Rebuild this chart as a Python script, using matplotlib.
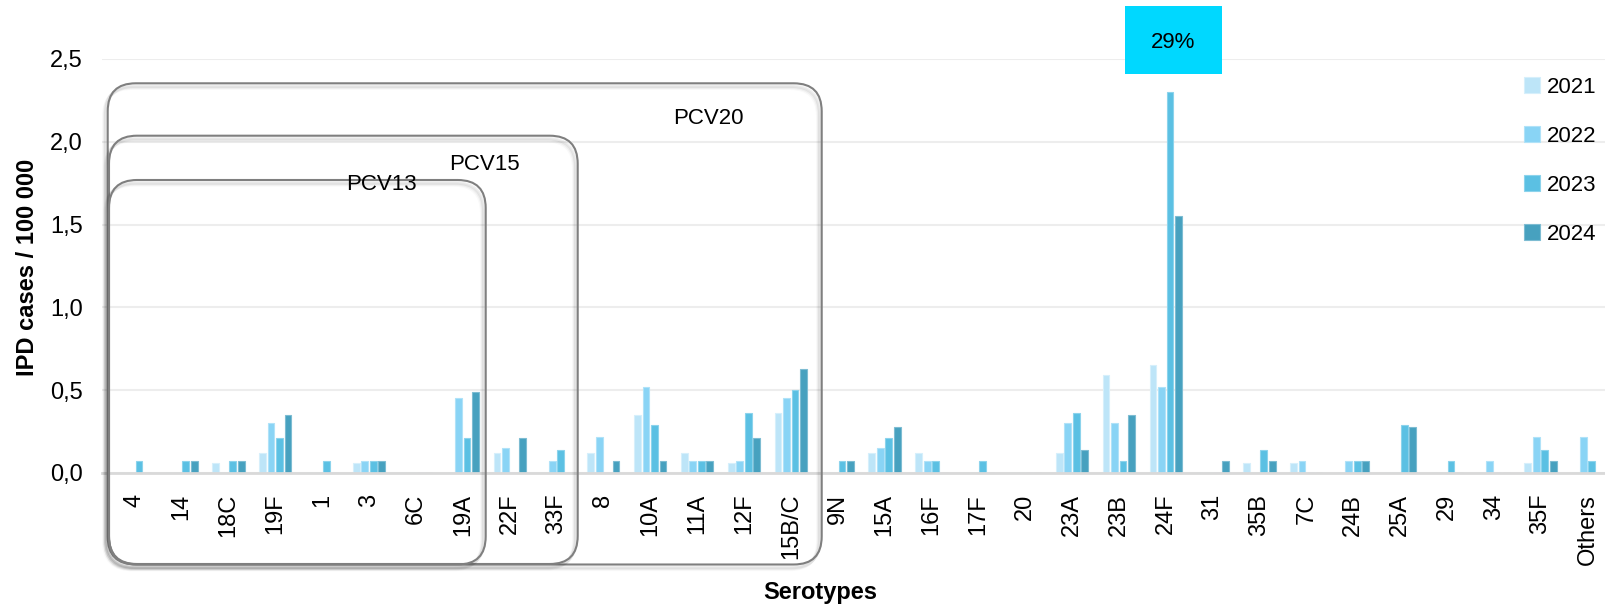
"""IPD incidence by serotype, 2021-2024, with PCV coverage boxes."""

import numpy as np
import matplotlib
matplotlib.use('Agg')
import matplotlib.pyplot as plt
from matplotlib.patches import FancyBboxPatch, Rectangle

serotypes = ['4', '14', '18C', '19F', '1', '3', '6C', '19A', '22F', '33F',
             '8', '10A', '11A', '12F', '15B/C', '9N', '15A', '16F', '17F',
             '20', '23A', '23B', '24F', '31', '35B', '7C', '24B', '25A',
             '29', '34', '35F', 'Others']
years = ['2021', '2022', '2023', '2024']

cases_2021 = [0, 0, 0.06, 0.12, 0, 0.06, 0, 0, 0.12, 0,
              0.12, 0.35, 0.12, 0.06, 0.36, 0, 0.12, 0.12, 0,
              0, 0.12, 0.59, 0.65, 0, 0.06, 0.06, 0, 0,
              0, 0, 0.06, 0]
cases_2022 = [0, 0, 0, 0.30, 0, 0.07, 0, 0.45, 0.15, 0.07,
              0.22, 0.52, 0.07, 0.07, 0.45, 0, 0.15, 0.07, 0,
              0, 0.30, 0.30, 0.52, 0, 0, 0.07, 0.07, 0,
              0, 0.07, 0.22, 0.22]
cases_2023 = [0.07, 0.07, 0.07, 0.21, 0.07, 0.07, 0, 0.21, 0, 0.14,
              0, 0.29, 0.07, 0.36, 0.50, 0.07, 0.21, 0.07, 0.07,
              0, 0.36, 0.07, 2.30, 0, 0.14, 0, 0.07, 0.29,
              0.07, 0, 0.14, 0.07]
cases_2024 = [0, 0.07, 0.07, 0.35, 0, 0.07, 0, 0.49, 0.21, 0,
              0.07, 0.07, 0.07, 0.21, 0.63, 0.07, 0.28, 0, 0,
              0, 0.14, 0.35, 1.55, 0.07, 0.07, 0, 0.07, 0.28,
              0, 0, 0.07, 0]

colors = ['#BDE5F8', '#89D4F5', '#5BC0E3', '#47A1BF']
edges = ['#D6EFFB', '#B0E2F8', '#8CD3EC', '#7DBCD2']

plt.rcParams['font.family'] = ['Liberation Sans', 'DejaVu Sans']
FONTSIZE = 17

W, H = 1605, 606
fig = plt.figure(figsize=(W / 100., H / 100.), dpi=100)
ax = fig.add_axes([102. / W, (H - 473.) / H, (W - 102.) / W, (473. - 59.) / H])

x = np.arange(len(serotypes))
pitch = 0.181
series = [cases_2021, cases_2022, cases_2023, cases_2024]
for i, vals in enumerate(series):
    ax.bar(x + (i - 1.5) * pitch, vals, width=0.145, color=colors[i],
           edgecolor=edges[i], linewidth=0.8, label=years[i], zorder=3)

ax.set_xlim(-0.699, 31.375)
ax.set_ylim(0, 2.5)
ax.set_yticks([0, 0.5, 1.0, 1.5, 2.0, 2.5])
ax.set_yticklabels(['0,0', '0,5', '1,0', '1,5', '2,0', '2,5'])
ax.set_xticks(x)
ax.set_xticklabels(serotypes, rotation=90, va='top', ha='center')
ax.tick_params(axis='x', length=0, pad=15, labelsize=FONTSIZE)
ax.tick_params(axis='y', length=0, pad=14, labelsize=FONTSIZE)
ax.yaxis.grid(True, color='#EDEDED', linewidth=1.5, zorder=0)
for s in ['top', 'right', 'left']:
    ax.spines[s].set_visible(False)
ax.spines['bottom'].set_color('#D9D9D9')
ax.spines['bottom'].set_linewidth(2)
ax.spines['bottom'].set_zorder(4)

fig.text(28. / W, (H - 267.) / H, 'IPD cases / 100 000', rotation=90,
         ha='center', va='center', fontsize=FONTSIZE, fontweight='bold')
fig.text(820. / W, (H - 592.) / H, 'Serotypes', ha='center', va='center',
         fontsize=FONTSIZE, fontweight='bold')

leg = ax.legend(loc='upper left', bbox_to_anchor=(1524. / W, (H - 77.) / H),
                bbox_transform=fig.transFigure, frameon=False,
                fontsize=16, handlelength=0.7, handleheight=0.7,
                handletextpad=0.35, labelspacing=1.26, borderpad=0,
                borderaxespad=0)

# PCV coverage boxes, in figure pixels (y from top)
boxes = [('PCV20', 107.7, 83.3, 821.7, 564.5, 708, 119),
         ('PCV15', 109, 135.7, 577.7, 564, 484, 165),
         ('PCV13', 109, 180, 485.7, 564.5, 381, 185)]
for name, x0, y0, x1, y1, tx, ty in boxes:
    for k, a in enumerate([0.06, 0.04, 0.025]):
        sh = FancyBboxPatch(((x0 - 2 - k) / 100., (H - y1 - 3 - k) / 100.),
                            (x1 - x0) / 100., (y1 - y0) / 100.,
                            boxstyle='round,pad=0,rounding_size=0.28',
                            transform=fig.dpi_scale_trans, facecolor='none',
                            edgecolor='black', alpha=a, linewidth=2.5)
        fig.add_artist(sh)
    p = FancyBboxPatch((x0 / 100., (H - y1) / 100.), (x1 - x0) / 100.,
                       (y1 - y0) / 100.,
                       boxstyle='round,pad=0,rounding_size=0.28',
                       transform=fig.dpi_scale_trans, facecolor='none',
                       edgecolor='#7F7F7F', linewidth=1.5)
    fig.add_artist(p)
    fig.text(tx / W, (H - ty) / H, name, ha='center', va='center',
             fontsize=16)

# 29% callout above the 24F bars
fig.add_artist(Rectangle((1125. / W, (H - 74.) / H), 97. / W, 68. / H,
                         transform=fig.transFigure, facecolor='#00D8FF',
                         edgecolor='none'))
fig.text(1173. / W, (H - 42.) / H, '29%', ha='center', va='center',
         fontsize=16)

fig.savefig('out.png', dpi=100)
